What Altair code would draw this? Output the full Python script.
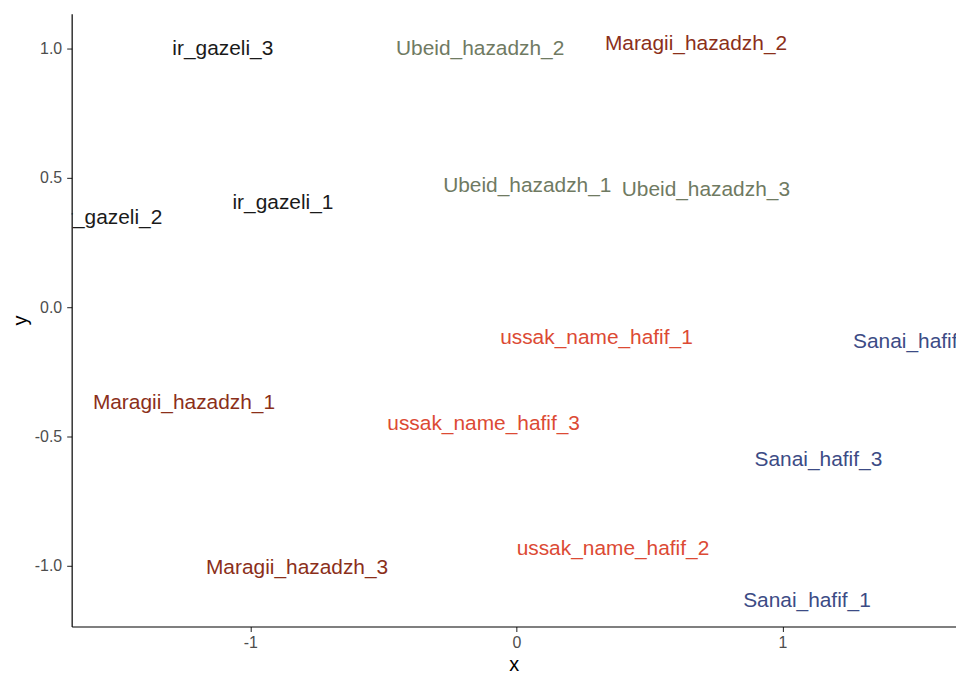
import altair as alt
import pandas as pd

labels = [
    "ir_gazeli_1", "ir_gazeli_2", "ir_gazeli_3",
    "Ubeid_hazadzh_1", "Ubeid_hazadzh_2", "Ubeid_hazadzh_3",
    "Maragii_hazadzh_1", "Maragii_hazadzh_2", "Maragii_hazadzh_3",
    "ussak_name_hafif_1", "ussak_name_hafif_2", "ussak_name_hafif_3",
    "Sanai_hafif_1", "Sanai_hafif_2", "Sanai_hafif_3",
]
groups = [
    "ir_gazeli", "ir_gazeli", "ir_gazeli",
    "Ubeid_hazadzh", "Ubeid_hazadzh", "Ubeid_hazadzh",
    "Maragii_hazadzh", "Maragii_hazadzh", "Maragii_hazadzh",
    "ussak_name_hafif", "ussak_name_hafif", "ussak_name_hafif",
    "Sanai_hafif", "Sanai_hafif", "Sanai_hafif",
]
x_vals = [-0.877, -1.520, -1.103,
          0.041, -0.136, 0.712,
          -1.249, 0.675, -0.824,
          0.301, 0.363, -0.123,
          1.092, 1.505, 1.135]
y_vals = [0.404, 0.346, 1.0,
          0.469, 1.0, 0.454,
          -0.369, 1.019, -1.008,
          -0.119, -0.935, -0.45,
          -1.135, -0.135, -0.592]

group_names = ["ir_gazeli", "Ubeid_hazadzh", "Maragii_hazadzh", "ussak_name_hafif", "Sanai_hafif"]
group_colors = ["#1a1a1a", "#6f7a62", "#8b2f1a", "#dc4a34", "#3c4b85"]

df = pd.DataFrame({"label": labels, "group": groups, "x": x_vals, "y": y_vals})

chart = alt.Chart(df).mark_text(
    font="Liberation Sans", fontSize=21, clip=True, baseline="middle", align="center"
).encode(
    x=alt.X("x:Q", title="x", scale=alt.Scale(domain=[-1.671, 1.652], nice=False, zero=False),
            axis=alt.Axis(values=[-1, 0, 1],
                          labelExpr="datum.value < 0 ? '-' + format(-datum.value, 'd') : format(datum.value, 'd')")),
    y=alt.Y("y:Q", title="y", scale=alt.Scale(domain=[-1.235, 1.135], nice=False, zero=False),
            axis=alt.Axis(values=[-1.0, -0.5, 0.0, 0.5, 1.0],
                          labelExpr="datum.value < 0 ? '-' + format(-datum.value, '.1f') : format(datum.value, '.1f')")),
    text="label:N",
    color=alt.Color("group:N", scale=alt.Scale(domain=group_names, range=group_colors), legend=None),
).properties(
    width=889, height=616,
    autosize=alt.AutoSizeParams(type="none"),
    padding={"left": 64, "top": 4, "right": 0, "bottom": 49},
).configure_view(stroke=None).configure_axis(
    grid=False,
    domainColor="#000000", domainWidth=1.2,
    tickColor="#333333", tickSize=5, tickWidth=1.1,
    labelFont="Liberation Sans", labelFontSize=16, labelColor="#4d4d4d", labelPadding=3,
    titleFont="Liberation Sans", titleFontSize=20, titleFontWeight="normal", titleColor="#000000",
).configure_axisY(labelPadding=5, titlePadding=4).configure_axisX(titlePadding=4)

chart.save("out.html", embed_options={"renderer": "svg", "actions": False})
